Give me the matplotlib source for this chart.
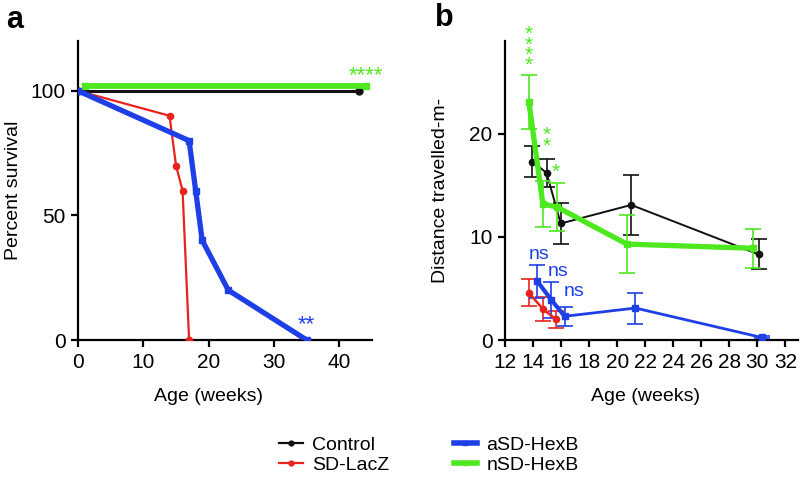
import numpy as np
import matplotlib
matplotlib.use("Agg")
from matplotlib import pyplot as plt
from matplotlib.lines import Line2D

plt.rcParams['font.family'] = ['Liberation Sans', 'DejaVu Sans']

# panel a: survival
ctrl_age = [0, 43]
ctrl_surv = [100, 100]
lacz_age = [0, 14, 15, 16, 17]
lacz_surv = [100, 90, 70, 60, 0]
asd_age = [0, 17, 18, 19, 23, 35]
asd_surv = [100, 80, 60, 40, 20, 0]
nsd_age = [1, 44]
nsd_surv = [102, 102]

# panel b: distance travelled
ctrl_wk = [13.95, 14.97, 15.97, 21.0, 30.1]
ctrl_dist = [17.3, 16.2, 11.3, 13.1, 8.3]
ctrl_err = [1.5, 1.4, 2.0, 2.9, 1.45]
lacz_wk = [13.7, 14.7, 15.65]
lacz_dist = [4.6, 3.0, 2.0]
lacz_err = [1.35, 1.2, 0.85]
asd_wk = [14.3, 15.3, 16.25, 21.3, 30.3]
asd_dist = [5.7, 3.9, 2.3, 3.1, 0.25]
asd_err = [1.6, 1.75, 0.9, 1.5, 0.1]
nsd_wk = [13.7, 14.7, 15.7, 20.7, 29.7]
nsd_dist = [23.1, 13.2, 12.9, 9.3, 8.9]
nsd_err = [2.65, 2.2, 2.3, 2.8, 1.9]

BLACK = "#111111"
RED = "#e8231e"
BLUE = "#1f3fe6"
GREEN = "#4ee81f"

fig = plt.figure(figsize=(8.02, 4.84), dpi=100)
ax = fig.add_axes([0.0973, 0.2975, 0.3666, 0.6178])
ax2 = fig.add_axes([0.6297, 0.2975, 0.3653, 0.6178])

for a in (ax, ax2):
    a.spines['top'].set_visible(False)
    a.spines['right'].set_visible(False)
    a.spines['left'].set_linewidth(1.6)
    a.spines['bottom'].set_linewidth(1.6)
    a.tick_params(direction='out', length=5, width=1.6, labelsize=15, pad=4)

# ---- panel a ----
ax.plot(ctrl_age, ctrl_surv, "-", color=BLACK, lw=2.2, marker="o", ms=5, zorder=3)
ax.plot(nsd_age, nsd_surv, "-", color=GREEN, lw=4.2, marker="s", ms=5, zorder=3)
ax.plot(lacz_age, lacz_surv, "-", color=RED, lw=1.6, marker="o", ms=4.5, zorder=4)
ax.plot(asd_age, asd_surv, "-", color=BLUE, lw=3.8, marker="s", ms=5, zorder=5)
ax.text(44, 106, "****", color=GREEN, fontsize=16, ha="center", va="center")
ax.text(35, 6, "**", color=BLUE, fontsize=16, ha="center", va="center")
ax.set_xlim(0, 45)
ax.set_ylim(0, 120)
ax.set_xticks([0, 10, 20, 30, 40])
ax.set_yticks([0, 50, 100])
ax.set_xlabel("Age (weeks)", fontsize=14)
ax.xaxis.set_label_coords(0.445, -0.16)
ax.set_ylabel("Percent survival", fontsize=14)
ax.yaxis.set_label_coords(-0.19, 0.5)

# ---- panel b ----
ek = dict(capsize=5.5, elinewidth=1.2, capthick=1.2)
ax2.errorbar(ctrl_wk, ctrl_dist, yerr=ctrl_err, color=BLACK, lw=1.4, marker="o", ms=4.5, zorder=3, **ek)
ax2.errorbar(nsd_wk, nsd_dist, yerr=nsd_err, color=GREEN, lw=3.8, marker="s", ms=4.5, zorder=4, **ek)
ax2.errorbar(lacz_wk, lacz_dist, yerr=lacz_err, color=RED, lw=1.8, marker="o", ms=4.5, zorder=3, **ek)
ax2.errorbar(asd_wk, asd_dist, yerr=asd_err, color=BLUE, lw=2.0, marker="s", ms=4.5, zorder=3, **ek)
ax2.plot(asd_wk[:3], asd_dist[:3], "-", color=BLUE, lw=3, zorder=3)

ax2.text(nsd_wk[0], 28.1, "*\n*\n*\n*", color=GREEN, fontsize=15, ha="center", va="center",
         linespacing=0.42, clip_on=False)
ax2.text(ctrl_wk[1], 19.3, "*\n*", color=GREEN, fontsize=15, ha="center", va="center", linespacing=0.45)
ax2.text(15.65, 16.3, "*", color=GREEN, fontsize=15, ha="center", va="center")
ax2.text(14.4, 8.3, "ns", color=BLUE, fontsize=14, ha="center", va="center")
ax2.text(15.8, 6.6, "ns", color=BLUE, fontsize=14, ha="center", va="center")
ax2.text(16.9, 4.7, "ns", color=BLUE, fontsize=14, ha="center", va="center")

ax2.set_xlim(12, 32.9)
ax2.set_ylim(0, 29)
ax2.set_xticks(np.arange(12, 33, 2))
ax2.set_yticks([0, 10, 20])
ax2.set_xlabel("Age (weeks)", fontsize=14)
ax2.xaxis.set_label_coords(0.478, -0.16)
ax2.set_ylabel("Distance travelled-m-", fontsize=14)
ax2.yaxis.set_label_coords(-0.19, 0.5)

fig.text(0.008, 0.958, "a", fontsize=22, fontweight="bold", va="center")
fig.text(0.542, 0.962, "b", fontsize=22, fontweight="bold", va="center")

handles = [
    Line2D([], [], color=BLACK, lw=1.6, marker="o", ms=3.5),
    Line2D([], [], color=RED, lw=1.6, marker="o", ms=3.5),
    Line2D([], [], color=BLUE, lw=4, marker="s", ms=3.5),
    Line2D([], [], color=GREEN, lw=4, marker="s", ms=3.5),
]
labels = ["Control", "SD-LacZ", "aSD-HexB", "nSD-HexB"]
fig.legend(handles, labels, ncol=2, loc="center", bbox_to_anchor=(0.535, 0.06),
           frameon=False, fontsize=14, handlelength=1.2, columnspacing=3.3,
           labelspacing=0.15, handletextpad=0.5)

fig.savefig("out.png", dpi=100)
